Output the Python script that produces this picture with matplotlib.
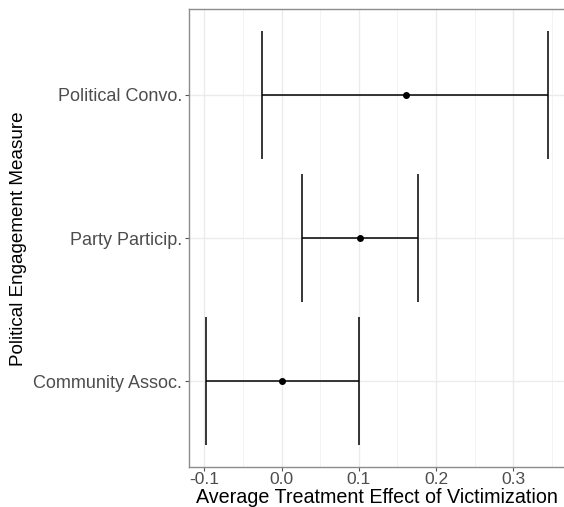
import numpy as np
import matplotlib.pyplot as plt
from matplotlib.ticker import MultipleLocator

measures = ["Community Assoc.", "Party Particip.", "Political Convo."]
estimates = [0.0, 0.101, 0.161]
lower = [-0.098, 0.026, -0.025]
upper = [0.100, 0.177, 0.345]

plt.rcParams['font.family'] = ['Liberation Sans', 'DejaVu Sans']

fig = plt.figure(figsize=(5.64, 5.07), dpi=100)
ax = fig.add_axes([0.335, 0.079, 0.667, 0.903])

ypos = np.arange(len(measures)) + 1
ax.hlines(ypos, lower, upper, color='black', lw=1.1, zorder=3)
ax.vlines(lower, ypos - 0.45, ypos + 0.45, color='black', lw=1.1, zorder=3)
ax.vlines(upper, ypos - 0.45, ypos + 0.45, color='black', lw=1.1, zorder=3)
ax.plot(estimates, ypos, 'o', color='black', markersize=4, zorder=4)

span = max(upper) - min(lower)
ax.set_xlim(min(lower) - 0.05 * span, max(upper) + 0.05 * span)
ax.set_ylim(0.4, 3.6)
ax.set_yticks(ypos)
ax.set_yticklabels(measures, fontsize=13)
ax.xaxis.set_minor_locator(MultipleLocator(0.05))
ax.set_xticks([-0.1, 0.0, 0.1, 0.2, 0.3])
ax.set_xticklabels(["-0.1", "0.0", "0.1", "0.2", "0.3"], fontsize=12.5)

ax.grid(which='major', color='#EBEBEB', lw=1.0, zorder=0)
ax.grid(which='minor', axis='x', color='#F3F3F3', lw=0.7, zorder=0)
ax.tick_params(which='minor', length=0)
ax.tick_params(which='major', length=3, width=0.8, color='#555555',
               labelcolor='#4D4D4D')
ax.tick_params(axis='x', pad=0.5)
ax.tick_params(axis='y', pad=2)
for s in ax.spines.values():
    s.set_color('#8C8C8C')
    s.set_linewidth(1.0)

# axis titles placed by hand (ggplot layout)
fig.text(0.669, 0.008, "Average Treatment Effect of Victimization",
         fontsize=14.2, color='black', ha='center', va='baseline')
fig.text(0.033, 0.529, "Political Engagement Measure", fontsize=13.6,
         color='black', ha='center', va='center', rotation=90)

fig.savefig("out.png", dpi=100)
